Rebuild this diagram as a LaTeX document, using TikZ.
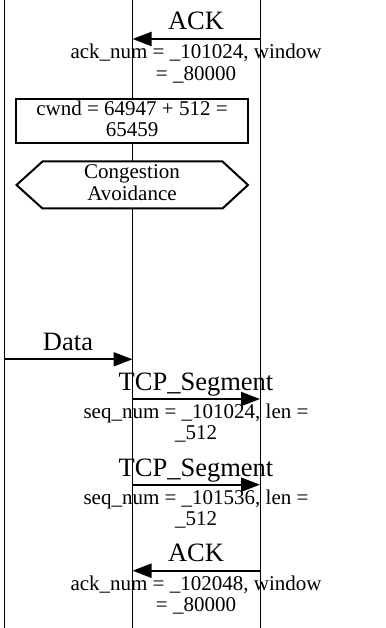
\documentclass[tikz,border=0pt]{standalone}
\usepackage{fontspec}
\setmainfont{Liberation Serif}
\usetikzlibrary{arrows.meta}
\begin{document}
\begin{tikzpicture}[x=1pt,y=-1pt,
  lifeline/.style={line width=1pt,black},
  msg/.style={line width=2pt,-{Triangle[length=19pt,width=14pt]}},
  msgname/.style={anchor=base,inner sep=0pt,font=\fontsize{26.5}{28}\selectfont},
  msglabel/.style={anchor=base,inner sep=0pt,align=center,font=\fontsize{21}{21.5}\selectfont},
  notebox/.style={draw,line width=2pt,fill=white},
  notetext/.style={anchor=base,inner sep=0pt,align=center,font=\fontsize{21}{21.5}\selectfont}]
\useasboundingbox (0,0) rectangle (385,628);

% lifelines
\coordinate (aT) at (4,0);     \coordinate (aB) at (4,628);
\coordinate (bT) at (132.5,0); \coordinate (bB) at (132.5,628);
\coordinate (cT) at (260,0);   \coordinate (cB) at (260,628);
\draw[lifeline] (aT) -- (aB);
\draw[lifeline] (bT) -- (bB);
\draw[lifeline] (cT) -- (cB);

% multi-line labels are placed by the baseline of their last line

% first acknowledgement
\coordinate (ack1s) at (260,39);  \coordinate (ack1e) at (132.5,39);
\draw[msg] (ack1s) -- (ack1e);
\node[msgname] (ack1n) at (196,30) {ACK};
\node[msglabel] (ack1l) at (196,80.4) {ack\_num = \_101024, window\\= \_80000};

% window update note
\node[notebox,minimum width=232pt,minimum height=44pt,inner sep=0pt] (cwnd) at (132,121) {};
\node[notetext] (cwndt) at (132,136.6) {cwnd = 64947 + 512 =\\65459};

% state marker
\coordinate (h1) at (16.5,185);  \coordinate (h2) at (42.5,161.5);
\coordinate (h3) at (222.5,161.5); \coordinate (h4) at (248,185);
\coordinate (h5) at (222.5,208.5); \coordinate (h6) at (42.5,208.5);
\draw[notebox,line join=miter] (h1) -- (h2) -- (h3) -- (h4) -- (h5) -- (h6) -- cycle;
\node[notetext] (state) at (132,200.2) {Congestion\\Avoidance};

% data from the application
\coordinate (ds) at (4,359.3); \coordinate (de) at (132.5,359.3);
\draw[msg] (ds) -- (de);
\node[msgname] (dn) at (68,350.7) {Data};

% first segment
\coordinate (s1s) at (132.5,399); \coordinate (s1e) at (260,399);
\draw[msg] (s1s) -- (s1e);
\node[msgname] (s1n) at (196,390.7) {TCP\_Segment};
\node[msglabel] (s1l) at (196,439.9) {seq\_num = \_101024, len =\\\_512};

% second segment
\coordinate (s2s) at (132.5,484.7); \coordinate (s2e) at (260,484.7);
\draw[msg] (s2s) -- (s2e);
\node[msgname] (s2n) at (196,476) {TCP\_Segment};
\node[msglabel] (s2l) at (196,525.7) {seq\_num = \_101536, len =\\\_512};

% second acknowledgement
\coordinate (ack2s) at (260,570.7); \coordinate (ack2e) at (132.5,570.7);
\draw[msg] (ack2s) -- (ack2e);
\node[msgname] (ack2n) at (196,561.7) {ACK};
\node[msglabel] (ack2l) at (196,611.9) {ack\_num = \_102048, window\\= \_80000};
\end{tikzpicture}
\end{document}
